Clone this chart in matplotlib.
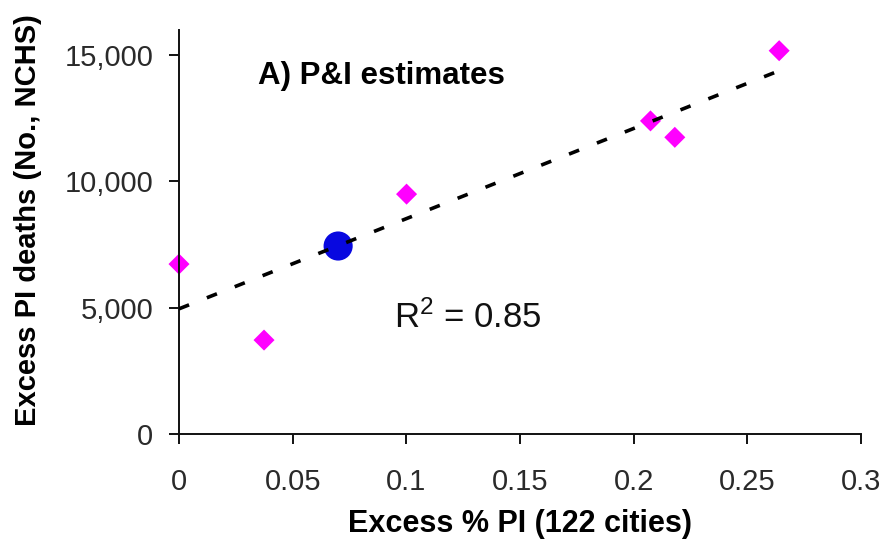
import numpy as np
import matplotlib
matplotlib.use("Agg")
import matplotlib.pyplot as plt

plt.rcParams['font.family'] = ['Liberation Sans', 'DejaVu Sans']
plt.rcParams['mathtext.fontset'] = 'custom'
plt.rcParams['mathtext.rm'] = 'Liberation Sans'
plt.rcParams['mathtext.it'] = 'Liberation Sans'

# Data
excess_pct_pi = [0.0, 0.0374, 0.1001, 0.2074, 0.2181, 0.2640]
excess_deaths = [6730, 3720, 9500, 12400, 11750, 15180]
highlight_x = [0.0700]
highlight_y = [7445]

x_ticks = [0, 0.05, 0.1, 0.15, 0.2, 0.25, 0.3]
x_tick_labels = ["0", "0.05", "0.1", "0.15", "0.2", "0.25", "0.3"]
y_ticks = [0, 5000, 10000, 15000]
y_tick_labels = ["0", "5,000", "10,000", "15,000"]

fig = plt.figure(figsize=(8.85, 5.48), dpi=100)
ax = fig.add_axes([179 / 885, 1 - 434 / 548, 682 / 885, 404 / 548])

ax.scatter(excess_pct_pi, excess_deaths, marker='D', s=115, color='#FF00FF',
           edgecolors='none', zorder=2, clip_on=False)
ax.scatter(highlight_x, highlight_y, marker='o', s=440, color='#0808E0',
           edgecolors='none', zorder=2)

# linear trend line fitted to the diamonds
slope, intercept = np.polyfit(excess_pct_pi, excess_deaths, 1)
xs = np.array([0.0, max(excess_pct_pi)])
ax.plot(xs, slope * xs + intercept, color='black', lw=2.6,
        linestyle=(0, (3.0, 5.3)), zorder=3)

ax.set_xlim(0, 0.3)
ax.set_ylim(0, 16000)
ax.set_xticks(x_ticks)
ax.set_xticklabels(x_tick_labels)
ax.set_yticks(y_ticks)
ax.set_yticklabels(y_tick_labels)

for s in ['top', 'right']:
    ax.spines[s].set_visible(False)
for s in ['left', 'bottom']:
    ax.spines[s].set_linewidth(1.4)
    ax.spines[s].set_color('#111111')

ax.tick_params(axis='both', direction='out', length=7.5, width=1.4,
               color='#111111', labelsize=21, labelcolor='#2a2a2a')
ax.tick_params(axis='x', pad=17)
ax.tick_params(axis='y', pad=11)

ax.set_xlabel("Excess % PI (122 cities)", fontsize=22, fontweight='bold')
ax.set_ylabel("Excess PI deaths (No., NCHS)", fontsize=21, fontweight='bold')
ax.xaxis.set_label_coords(0.5, -0.186)
ax.yaxis.set_label_coords(-0.201, 0.53)

ax.text(0.0347, 13880, "A) P&I estimates", fontsize=22.5, fontweight='bold',
        va='baseline', ha='left')
ax.text(0.0945, 4200, "R$^2$ = 0.85", fontsize=25, va='baseline', ha='left',
        color='#111111')

fig.savefig("out.png", dpi=100)
